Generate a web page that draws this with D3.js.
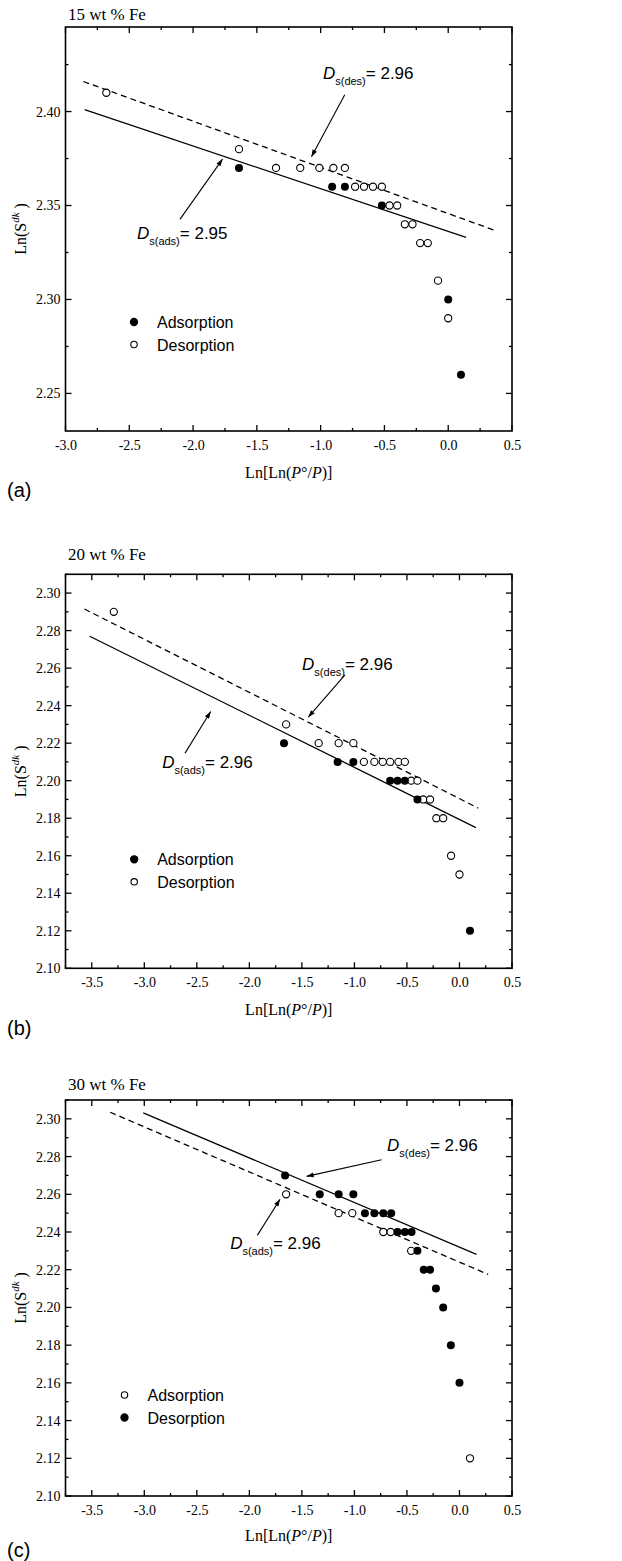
<!DOCTYPE html>
<html>
<head>
<meta charset="utf-8">
<script src="https://cdn.jsdelivr.net/npm/d3@7"></script>
<style>
  body { margin: 0; background: white; }
  svg { display: block; }
</style>
</head>
<body>
<div id="chart"></div>
<script>
// panel (a) 15 wt % Fe
const a_ads = [[-1.64,2.37],[-0.91,2.36],[-0.81,2.36],[-0.52,2.35],[0.0,2.30],[0.10,2.26]];
const a_des = [[-2.68,2.41],[-1.64,2.38],[-1.35,2.37],[-1.16,2.37],[-1.01,2.37],[-0.90,2.37],[-0.81,2.37],
  [-0.73,2.36],[-0.66,2.36],[-0.59,2.36],[-0.52,2.36],[-0.46,2.35],[-0.40,2.35],[-0.34,2.34],[-0.28,2.34],
  [-0.22,2.33],[-0.16,2.33],[-0.08,2.31],[0.0,2.29]];
const a_fitAds = [[-2.85,2.401],[0.14,2.333]];
const a_fitDes = [[-2.86,2.416],[0.355,2.337]];

// panel (b) 20 wt % Fe
const b_ads = [[-1.67,2.22],[-1.16,2.21],[-1.01,2.21],[-0.66,2.20],[-0.59,2.20],[-0.52,2.20],[-0.40,2.19],[0.10,2.12]];
const b_des = [[-3.29,2.29],[-1.65,2.23],[-1.34,2.22],[-1.15,2.22],[-1.01,2.22],[-0.91,2.21],[-0.81,2.21],
  [-0.73,2.21],[-0.66,2.21],[-0.58,2.21],[-0.52,2.21],[-0.46,2.20],[-0.40,2.20],[-0.345,2.19],[-0.28,2.19],
  [-0.22,2.18],[-0.155,2.18],[-0.08,2.16],[0.0,2.15]];
const b_fitAds = [[-3.52,2.277],[0.156,2.175]];
const b_fitDes = [[-3.57,2.2915],[0.178,2.1854]];

// panel (c) 30 wt % Fe
const c_ads = [[-1.65,2.26],[-1.15,2.25],[-1.02,2.25],[-0.725,2.24],[-0.655,2.24],[-0.46,2.23],[0.10,2.12]];
const c_des = [[-1.66,2.27],[-1.33,2.26],[-1.15,2.26],[-1.01,2.26],[-0.90,2.25],[-0.81,2.25],[-0.725,2.25],
  [-0.65,2.25],[-0.59,2.24],[-0.52,2.24],[-0.456,2.24],[-0.40,2.23],[-0.34,2.22],[-0.28,2.22],[-0.224,2.21],
  [-0.155,2.20],[-0.082,2.18],[0.0,2.16]];
const c_fitAds = [[-3.325,2.3035],[0.273,2.2175]];
const c_fitDes = [[-3.01,2.3032],[0.162,2.2281]];

// tick values
const a_xTicks = [-3.0,-2.5,-2.0,-1.5,-1.0,-0.5,0.0,0.5];
const a_yTicks = [2.25,2.30,2.35,2.40];
const bc_xTicks = [-3.5,-3.0,-2.5,-2.0,-1.5,-1.0,-0.5,0.0,0.5];
const bc_yTicks = [2.10,2.12,2.14,2.16,2.18,2.20,2.22,2.24,2.26,2.28,2.30];

// annotation labels: [subscript, value, text x, text y, arrow from x, y, arrow to x, y]
const a_notes = [["s(des)","2.96",-0.982,2.4174,-0.811,2.409,-1.072,2.376],
                 ["s(ads)","2.95",-2.44,2.3324,-2.103,2.3426,-1.769,2.3747]];
const b_notes = [["s(des)","2.96",-1.498,2.2591,-1.09,2.2564,-1.439,2.2339],
                 ["s(ads)","2.96",-2.83,2.2068,-2.612,2.2147,-2.368,2.2369]];
const c_notes = [["s(des)","2.96",-0.689,2.283,-0.741,2.2783,-1.455,2.2695],
                 ["s(ads)","2.96",-2.183,2.2309,-1.924,2.2382,-1.708,2.2574]];

const W = 622, H = 1561;
const svg = d3.select('#chart').append('svg')
  .attr('width', W).attr('height', H)
  .style('background-color', 'white');

const defs = svg.append('defs');
defs.append('marker')
  .attr('id', 'arrow')
  .attr('viewBox', '0 0 10 10')
  .attr('refX', 10).attr('refY', 5)
  .attr('markerWidth', 9).attr('markerHeight', 7)
  .attr('markerUnits', 'userSpaceOnUse')
  .attr('orient', 'auto')
  .append('path').attr('d', 'M0,1.5 L10,5 L0,8.5 Z').attr('fill', 'black');

const serif = '"Liberation Serif", "Times New Roman", serif';
const sans = '"Liberation Sans", Arial, sans-serif';
const fmtX = d => d3.format('.1f')(d).replace('\u2212', '-');

function panel(cfg) {
  const left = 65.5, right = 512;
  const x = d3.scaleLinear().domain(cfg.xDomain).range([left, right]);
  const y = d3.scaleLinear().domain(cfg.yDomain).range([cfg.bottom, cfg.top]);
  const g = svg.append('g');

  const xMinor = d3.range(cfg.xDomain[0], cfg.xDomain[1] + 1e-9, 0.25)
    .filter(v => !cfg.xTicks.some(t => Math.abs(t - v) < 1e-6));
  const yMinor = d3.range(cfg.yTicks[0] - cfg.yStep / 2, cfg.yDomain[1] + 1e-9, cfg.yStep / 2)
    .filter(v => v > cfg.yDomain[0] + 1e-6 && !cfg.yTicks.some(t => Math.abs(t - v) < 1e-6));

  // tick labels from d3 axes
  const xa = g.append('g').attr('transform', `translate(0,${cfg.bottom})`)
    .call(d3.axisBottom(x).tickValues(cfg.xTicks).tickSize(0).tickPadding(9).tickFormat(fmtX));
  const ya = g.append('g').attr('transform', `translate(${left},0)`)
    .call(d3.axisLeft(y).tickValues(cfg.yTicks).tickSize(0).tickPadding(5).tickFormat(d3.format('.2f')));
  [xa, ya].forEach(ax => {
    ax.select('.domain').remove();
    ax.selectAll('line').remove();
    ax.selectAll('text').style('font-family', serif).style('font-size', '14px').attr('fill', 'black');
  });

  // inward ticks on all four sides
  const tk = g.append('g').attr('stroke', 'black').attr('stroke-width', 1.3);
  const xt = cfg.xTicks.map(v => [v, 6]).concat(xMinor.map(v => [v, 3]));
  const yt = cfg.yTicks.map(v => [v, 6]).concat(yMinor.map(v => [v, 3]));
  xt.forEach(d => {
    tk.append('line').attr('x1', x(d[0])).attr('x2', x(d[0])).attr('y1', cfg.bottom).attr('y2', cfg.bottom - d[1]);
    tk.append('line').attr('x1', x(d[0])).attr('x2', x(d[0])).attr('y1', cfg.top).attr('y2', cfg.top + d[1]);
  });
  yt.forEach(d => {
    tk.append('line').attr('y1', y(d[0])).attr('y2', y(d[0])).attr('x1', left).attr('x2', left + d[1]);
    tk.append('line').attr('y1', y(d[0])).attr('y2', y(d[0])).attr('x1', right).attr('x2', right - d[1]);
  });

  // frame
  g.append('rect')
    .attr('x', left).attr('y', cfg.top)
    .attr('width', right - left).attr('height', cfg.bottom - cfg.top)
    .attr('fill', 'none').attr('stroke', 'black').attr('stroke-width', 1.6);

  // fit lines
  const line = d3.line().x(d => x(d[0])).y(d => y(d[1]));
  g.append('path').attr('d', line(cfg.solid)).attr('fill', 'none')
    .attr('stroke', 'black').attr('stroke-width', 1.3);
  g.append('path').attr('d', line(cfg.dashed)).attr('fill', 'none')
    .attr('stroke', 'black').attr('stroke-width', 1.3).attr('stroke-dasharray', '6,4');

  // points
  g.selectAll(null).data(cfg.open).enter().append('circle')
    .attr('cx', d => x(d[0])).attr('cy', d => y(d[1])).attr('r', 3.6)
    .attr('fill', 'white').attr('stroke', 'black').attr('stroke-width', 1.1);
  g.selectAll(null).data(cfg.filled).enter().append('circle')
    .attr('cx', d => x(d[0])).attr('cy', d => y(d[1])).attr('r', 4)
    .attr('fill', 'black');

  // annotations
  cfg.notes.forEach(n => {
    const t = g.append('text').attr('x', x(n[2])).attr('y', y(n[3]))
      .style('font-family', sans).style('font-size', '17px').attr('fill', 'black');
    t.append('tspan').text('D').style('font-style', 'italic');
    t.append('tspan').text(n[0]).style('font-size', '11px').attr('dy', 6);
    t.append('tspan').text('= ' + n[1]).attr('dy', -6);
    g.append('line')
      .attr('x1', x(n[4])).attr('y1', y(n[5]))
      .attr('x2', x(n[6])).attr('y2', y(n[7]))
      .attr('stroke', 'black').attr('stroke-width', 1.1)
      .attr('marker-end', 'url(#arrow)');
  });

  // legend
  const lx = left + cfg.legend[0], ly = cfg.top + cfg.legend[1];
  cfg.legendItems.forEach((it, i) => {
    const cy = ly + i * 22.5;
    g.append('circle').attr('cx', lx).attr('cy', cy).attr('r', it[1] ? 3.6 : 3.2)
      .attr('fill', it[1] ? 'black' : 'white').attr('stroke', 'black').attr('stroke-width', 1.1);
    g.append('text').attr('x', lx + 23).attr('y', cy + 6).text(it[0])
      .style('font-family', sans).style('font-size', '16px').attr('fill', 'black');
  });

  // title
  g.append('text').attr('x', 68).attr('y', cfg.top - cfg.titleGap).text(cfg.title)
    .style('font-family', serif).style('font-size', '17px').attr('fill', 'black');

  // axis labels
  const xl = g.append('text').attr('x', (left + right) / 2).attr('y', cfg.bottom + cfg.xLabelGap)
    .attr('text-anchor', 'middle').style('font-family', serif).style('font-size', '16px');
  xl.append('tspan').text('Ln[Ln(');
  xl.append('tspan').text('P').style('font-style', 'italic');
  xl.append('tspan').text('°/');
  xl.append('tspan').text('P').style('font-style', 'italic');
  xl.append('tspan').text(')]');

  const yl = g.append('text')
    .attr('transform', `translate(26,${(cfg.top + cfg.bottom) / 2}) rotate(-90)`)
    .attr('text-anchor', 'middle').style('font-family', serif).style('font-size', '16px');
  yl.append('tspan').text('Ln(S');
  yl.append('tspan').text('dk').style('font-size', '11px').style('font-style', 'italic').attr('dy', -7);
  yl.append('tspan').text(' )').attr('dy', 7);

  // panel letter
  g.append('text').attr('x', 7).attr('y', cfg.bottom + cfg.letterGap).text(cfg.letter)
    .style('font-family', sans).style('font-size', '20px').attr('fill', 'black');
}

panel({
  title: '15 wt % Fe', letter: '(a)', top: 27, bottom: 431, titleGap: 7, xLabelGap: 47, letterGap: 66,
  xDomain: [-3.0, 0.5], yDomain: [2.23, 2.445], xTicks: a_xTicks, yTicks: a_yTicks, yStep: 0.05,
  open: a_des, filled: a_ads, solid: a_fitAds, dashed: a_fitDes, notes: a_notes,
  legend: [68.5, 295], legendItems: [['Adsorption', true], ['Desorption', false]]
});
panel({
  title: '20 wt % Fe', letter: '(b)', top: 574.3, bottom: 968.3, titleGap: 14, xLabelGap: 47, letterGap: 67,
  xDomain: [-3.75, 0.5], yDomain: [2.10, 2.31], xTicks: bc_xTicks, yTicks: bc_yTicks, yStep: 0.02,
  open: b_des, filled: b_ads, solid: b_fitAds, dashed: b_fitDes, notes: b_notes,
  legend: [68.7, 285], legendItems: [['Adsorption', true], ['Desorption', false]]
});
panel({
  title: '30 wt % Fe', letter: '(c)', top: 1100, bottom: 1496, titleGap: 10, xLabelGap: 45, letterGap: 61,
  xDomain: [-3.75, 0.5], yDomain: [2.10, 2.31], xTicks: bc_xTicks, yTicks: bc_yTicks, yStep: 0.02,
  open: c_ads, filled: c_des, solid: c_fitDes, dashed: c_fitAds, notes: c_notes,
  legend: [59, 295], legendItems: [['Adsorption', false], ['Desorption', true]]
});
</script>
</body>
</html>
